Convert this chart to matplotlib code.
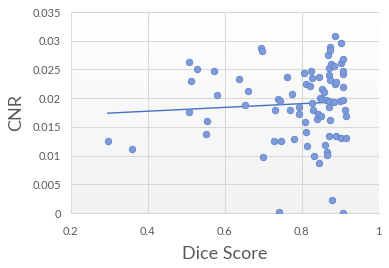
import numpy as np
import matplotlib
matplotlib.use("Agg")
import matplotlib.pyplot as plt

dice = [0.296, 0.359, 0.508, 0.528, 0.512, 0.506, 0.573, 0.579, 0.553, 0.551,
        0.638, 0.661, 0.654, 0.695, 0.696, 0.700, 0.727, 0.745, 0.742, 0.738,
        0.744, 0.730, 0.763, 0.775, 0.770, 0.779, 0.794, 0.794, 0.807, 0.824,
        0.826, 0.845, 0.811, 0.821, 0.808, 0.810, 0.815, 0.828, 0.829, 0.833,
        0.844, 0.840, 0.843, 0.851, 0.847, 0.853, 0.852, 0.857, 0.860, 0.862,
        0.865, 0.865, 0.868, 0.870, 0.870, 0.872, 0.872, 0.872, 0.873, 0.874,
        0.874, 0.874, 0.876, 0.880, 0.885, 0.885, 0.886, 0.886, 0.888, 0.890,
        0.900, 0.902, 0.902, 0.903, 0.906, 0.906, 0.906, 0.907, 0.907, 0.908,
        0.912, 0.914, 0.915]
cnr = [0.0126, 0.01115, 0.02625, 0.02503, 0.02294, 0.01765, 0.02479, 0.0205, 0.01597, 0.01376,
       0.02329, 0.02131, 0.01876, 0.02869, 0.02817, 0.0097, 0.0126, 0.01254, 0.00017, 0.01986,
       0.01951, 0.01794, 0.02364, 0.02068, 0.0180, 0.01289, 0.01852, 0.0172, 0.02444, 0.02479,
       0.02357, 0.02364, 0.02247, 0.02213, 0.01585, 0.01411, 0.01162, 0.01911, 0.01789, 0.00988,
       0.00866, 0.01638, 0.0172, 0.01685, 0.02009, 0.01986, 0.02166, 0.02103, 0.01185, 0.01963,
       0.01057, 0.01005, 0.02758, 0.02526, 0.02399, 0.01956, 0.01841, 0.01336, 0.0162, 0.02897,
       0.02845, 0.02312, 0.02596, 0.00226, 0.02566, 0.01934, 0.03089, 0.02242, 0.01341, 0.02277,
       0.01951, 0.02956, 0.02608, 0.01301, 0.0220, 0.01974, 0.0, 0.02677, 0.02416, 0.02479,
       0.0180, 0.0169, 0.01312]

x_ticks = [0.2, 0.4, 0.6, 0.8, 1.0]
x_labels = ["0.2", "0.4", "0.6", "0.8", "1"]
y_ticks = [0, 0.005, 0.01, 0.015, 0.02, 0.025, 0.03, 0.035]
y_labels = ["0", "0.005", "0.01", "0.015", "0.02", "0.025", "0.03", "0.035"]

plt.rcParams['font.family'] = ['Lato', 'DejaVu Sans']
grey = "#595959"

fig = plt.figure(figsize=(3.89, 2.68), dpi=100)
ax = fig.add_axes([0.1818, 0.2052, 0.7917, 0.7500])

# soft white-to-grey background like the Excel plot area
grad = np.linspace(1.0, 0.0, 256).reshape(-1, 1)
ax.imshow(grad, extent=[0, 1, 0, 1], transform=ax.transAxes, aspect="auto",
          cmap=matplotlib.colors.LinearSegmentedColormap.from_list("bg", ["#f2f2f2", "#ffffff"]),
          zorder=0)

ax.scatter(dice, cnr, s=22, facecolor="#7d9bd8", edgecolor="#6284cb",
           linewidth=0.6, zorder=3)

# linear trendline
k, b = np.polyfit(dice, cnr, 1)
xs = np.array([min(dice), max(dice)])
ax.plot(xs, k * xs + b, color="#4472c4", lw=1.0, zorder=2)

ax.set_xlim(0.2, 1.0)
ax.set_ylim(0, 0.035)
ax.set_xticks(x_ticks)
ax.set_xticklabels(x_labels)
ax.set_yticks(y_ticks)
ax.set_yticklabels(y_labels)
ax.tick_params(length=0, labelsize=8, colors=grey)
ax.tick_params(axis="x", pad=9)
ax.tick_params(axis="y", pad=7)
ax.grid(True, color="#d9d9d9", lw=0.8, zorder=1)
ax.set_axisbelow(True)
for s in ax.spines.values():
    s.set_visible(False)
ax.spines["bottom"].set_visible(True)
ax.spines["bottom"].set_color("#d9d9d9")

ax.set_xlabel("Dice Score", fontsize=13, color=grey, labelpad=7)
ax.set_ylabel("CNR", fontsize=13, color=grey, labelpad=6)

fig.savefig("out.png", dpi=100)
